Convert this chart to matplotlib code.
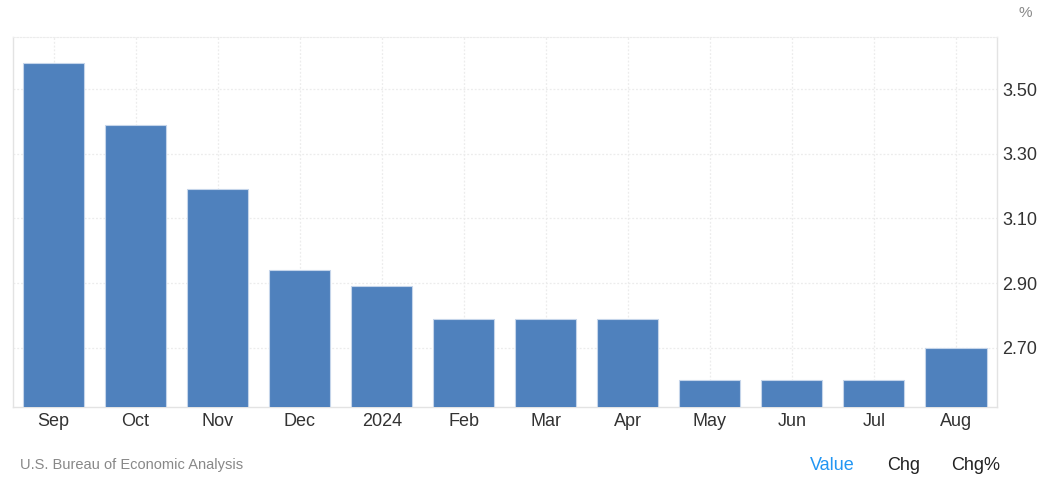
import numpy as np
import matplotlib.pyplot as plt

plt.rcParams['font.family'] = ['Liberation Sans', 'DejaVu Sans']

months = ["Sep", "Oct", "Nov", "Dec", "2024", "Feb", "Mar", "Apr", "May", "Jun", "Jul", "Aug"]
values = [3.58, 3.39, 3.19, 2.94, 2.89, 2.79, 2.79, 2.79, 2.60, 2.60, 2.60, 2.70]
yticks = [2.70, 2.90, 3.10, 3.30, 3.50]

fig = plt.figure(figsize=(10.45, 4.82), dpi=100)
ax = fig.add_axes([13/1045, 75/482, 984/1045, 370/482])

x = np.arange(len(months))
ax.bar(x, values, width=0.745, color="#4f81bd", edgecolor="#c5d5ea", linewidth=0.8, zorder=3)

ax.set_xlim(-0.494, 11.5)
ax.set_ylim(2.517, 3.661)
ax.set_xticks(x)
ax.set_xticklabels(months)
ax.set_yticks(yticks)
ax.set_yticklabels(["%.2f" % v for v in yticks])
ax.yaxis.tick_right()
ax.tick_params(axis="both", length=0, labelsize=13, colors="#333333")
ax.tick_params(axis="x", pad=4)
ax.tick_params(axis="y", pad=4)

ax.grid(True, color="#ececec", linestyle=(0, (1.5, 1.5)), linewidth=0.9, zorder=0)
for s in ["left", "bottom", "right"]:
    ax.spines[s].set_color("#e3e3e3")
    ax.spines[s].set_linewidth(1.0)
ax.spines["top"].set_color("#ececec")
ax.spines["top"].set_linestyle((0, (1.5, 1.5)))

fig.text(1025/1045, 1 - 13/482, "%", color="#888888", fontsize=11, ha="center", va="center")
fig.text(20/1045, 1 - 465/482, "U.S. Bureau of Economic Analysis", color="#888888", fontsize=10.5, va="center")
fig.text(832/1045, 1 - 465/482, "Value", color="#2196f3", fontsize=13, ha="center", va="center")
fig.text(904/1045, 1 - 465/482, "Chg", color="#222222", fontsize=13, ha="center", va="center")
fig.text(976/1045, 1 - 465/482, "Chg%", color="#222222", fontsize=13, ha="center", va="center")

fig.savefig("out.png", dpi=100)
